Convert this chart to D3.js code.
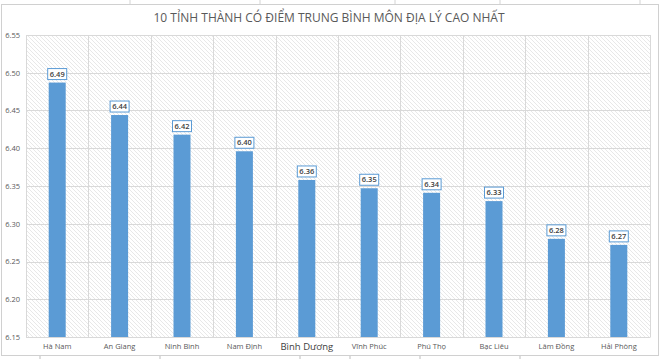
<!DOCTYPE html>
<html>
<head>
<meta charset="utf-8">
<script src="https://cdn.jsdelivr.net/npm/d3@7"></script>
<style>
html,body{margin:0;padding:0;background:#fff;}
svg{display:block;}
</style>
</head>
<body>
<svg id="chart" width="660" height="359"></svg>
<script>
const categories = ["Hà Nam","An Giang","Ninh Bình","Nam Định","Bình Dương","Vĩnh Phúc","Phú Thọ","Bạc Liêu","Lâm Đồng","Hải Phòng"];
const values = [6.487, 6.444, 6.418, 6.396, 6.358, 6.347, 6.341, 6.330, 6.280, 6.272];
const yTicks = [6.15, 6.20, 6.25, 6.30, 6.35, 6.40, 6.45, 6.50, 6.55];
const title = "10 TỈNH THÀNH CÓ ĐIỂM TRUNG BÌNH MÔN ĐỊA LÝ CAO NHẤT";

const svg = d3.select("#chart");
const W = 660, H = 359;
const font = "'Open Sans', 'Noto Sans', sans-serif";

// spreadsheet background bits
svg.append("rect").attr("width", W).attr("height", H).attr("fill", "#fff");
[130, 260, 395, 500, 640].forEach(xx => {
  svg.append("line").attr("x1", xx).attr("x2", xx).attr("y1", 0).attr("y2", 4).attr("stroke", "#d4d4d4");
});
[40, 160, 300, 350, 420, 520].forEach(xx => {
  svg.append("line").attr("x1", xx).attr("x2", xx).attr("y1", 356).attr("y2", 359).attr("stroke", "#bdbdbd");
});

// chart area
svg.append("rect").attr("x", 1.5).attr("y", 4.5).attr("width", 657).attr("height", 351)
  .attr("fill", "#fff").attr("stroke", "#d0d0d0");

const defs = svg.append("defs");
const pat = defs.append("pattern").attr("id", "hatch").attr("patternUnits", "userSpaceOnUse")
  .attr("width", 4).attr("height", 4);
pat.append("rect").attr("width", 4).attr("height", 4).attr("fill", "#fff");
pat.append("path").attr("d", "M-1,-1 L5,5 M-1,3 L1,5 M3,-1 L5,1")
  .attr("stroke", "#e2e2e2").attr("stroke-width", 0.8);

const x0 = 26, x1 = 650, yTop = 35, yBot = 337;

const x = d3.scaleBand().domain(categories).range([x0, x1]).paddingInner(0).paddingOuter(0);
const y = d3.scaleLinear().domain([6.15, 6.55]).range([yBot, yTop]);

svg.append("rect").attr("x", x0).attr("y", yTop).attr("width", x1 - x0).attr("height", yBot - yTop)
  .attr("fill", "url(#hatch)");

// horizontal gridlines
const g = svg.append("g");
g.selectAll("line.h").data(yTicks).join("line")
  .attr("x1", x0).attr("x2", x1)
  .attr("y1", d => Math.round(y(d)) + 0.5).attr("y2", d => Math.round(y(d)) + 0.5)
  .attr("stroke", "#d9d9d9").attr("stroke-width", 1);
// vertical gridlines at category boundaries
const bounds = categories.map(c => x(c)).concat([x1]);
g.selectAll("line.v").data(bounds).join("line")
  .attr("x1", d => Math.round(d) + 0.5).attr("x2", d => Math.round(d) + 0.5)
  .attr("y1", yTop).attr("y2", yBot)
  .attr("stroke", "#d9d9d9").attr("stroke-width", 1);

// y axis
const yAxis = d3.axisLeft(y).tickValues(yTicks).tickFormat(d3.format(".2f")).tickSize(0).tickPadding(6);
const ya = svg.append("g").attr("transform", `translate(${x0},0)`).call(yAxis);
ya.select(".domain").remove();
ya.selectAll("text").attr("font-family", font).attr("font-size", 7.5).attr("fill", "#595959");

// x axis
const xAxis = d3.axisBottom(x).tickSize(0).tickPadding(7);
const xa = svg.append("g").attr("transform", `translate(0,${yBot})`).call(xAxis);
xa.select(".domain").attr("stroke", "#d9d9d9");
xa.selectAll("text").attr("font-family", font).attr("font-size", 7.5).attr("fill", "#595959")
  .filter(d => d === "Bình Dương").attr("font-size", 9.5).attr("fill", "#404040").attr("dy", "0.6em");

// bars
const bw = 17;
svg.append("g").selectAll("rect").data(values).join("rect")
  .attr("x", (d, i) => x(categories[i]) + x.bandwidth() / 2 - bw / 2)
  .attr("y", d => y(d))
  .attr("width", bw)
  .attr("height", d => yBot - y(d))
  .attr("fill", "#5b9bd5");

// labels
const lw = 19, lh = 11;
const lg = svg.append("g").selectAll("g").data(values).join("g")
  .attr("transform", (d, i) => `translate(${x(categories[i]) + x.bandwidth() / 2},${y(d) - 3})`);
lg.append("rect").attr("x", -lw / 2).attr("y", -lh).attr("width", lw).attr("height", lh)
  .attr("fill", "#fff").attr("stroke", "#5b9bd5").attr("stroke-width", 1);
lg.append("text").attr("text-anchor", "middle").attr("y", -2.8)
  .attr("font-family", font).attr("font-size", 7.5).attr("font-weight", 600).attr("fill", "#404040")
  .text(d => d3.format(".2f")(d));

// title
svg.append("text").attr("x", 329).attr("y", 21.5).attr("text-anchor", "middle")
  .attr("font-family", font).attr("font-size", 12).attr("fill", "#595959")
  .text(title);
</script>
</body>
</html>
